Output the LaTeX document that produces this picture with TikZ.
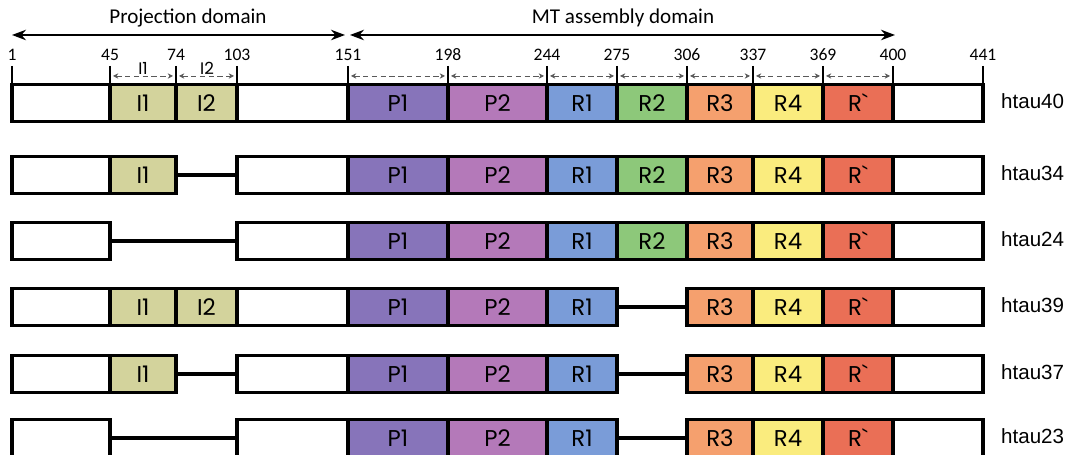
\documentclass[tikz,border=0pt]{standalone}
\usepackage{fontspec}
\setmainfont{Liberation Sans}
\newfontfamily\calfont{Carlito}
\newfontfamily\segfont{Poppins}
\usetikzlibrary{arrows.meta}
\tikzset{>=latex}
\definecolor{icol}{RGB}{211,211,156}
\definecolor{ponecol}{RGB}{135,116,186}
\definecolor{ptwocol}{RGB}{180,121,185}
\definecolor{ronecol}{RGB}{122,156,216}
\definecolor{rtwocol}{RGB}{141,200,122}
\definecolor{rthreecol}{RGB}{245,160,110}
\definecolor{rfourcol}{RGB}{250,236,126}
\definecolor{rpcol}{RGB}{234,111,86}
\tikzstyle{seg}=[draw,line width=1.9pt,inner sep=0pt,outer sep=0pt,minimum height=0.74cm,font=\segfont\fontsize{13}{15}\selectfont]
\tikzstyle{gap}=[line width=1.9pt]
\tikzstyle{span}=[<->,>={Stealth[length=3pt,width=3pt]},gray!70!black,densely dashed,thin]
% one segment of a construct: name, left x, right x, y, fill, text
\newcommand{\segm}[6]{\node[seg,fill=#5,minimum width={(#3-#2)*0.02cm}] (#1) at ({(#2+#3)/2},#4) {#6};}

\begin{document}
\begin{tikzpicture}[x=0.02cm,y=-0.02cm]
  \useasboundingbox (0,0) rectangle (1072,455);
  % domains
  \draw[<->,>={Stealth[length=8pt,width=6pt]},thick] (12,35) -- (345,35);
  \draw[<->,>={Stealth[length=8pt,width=6pt]},thick] (350,35) -- (895,35);
  \node[font=\calfont\fontsize{12}{14}\selectfont] (projlab) at (188,18) {Projection domain};
  \node[font=\calfont\fontsize{12}{14}\selectfont] (mtlab) at (623,18) {MT assembly domain};
  % residue numbers
  \foreach \x/\n in {12/1,110/45,176/74,237/103,348/151,448/198,547/244,617/275,687/306,753/337,823/369,893/400,983/441}{
    \draw[thick] (\x,66) -- (\x,84);
    \node[font=\calfont\fontsize{10}{12}\selectfont] at (\x,55) {\n};
  }
  \foreach \a/\b in {110/176,176/237,348/448,448/547,547/617,617/687,687/753,753/823,823/893}
    \draw[span] (\a+3,76) -- (\b-3,76);
  \node[font=\segfont\fontsize{9.5}{10}\selectfont] (ilab1) at (143,68) {I1};
  \node[font=\segfont\fontsize{9.5}{10}\selectfont] (ilab2) at (207,68) {I2};
  % constructs
  \foreach \r/\y/\lab in {1/103/htau40,2/175/htau34,3/241/htau24,4/307/htau39,5/374/htau37,6/438/htau23}{
    \segm{r\r-w1}{12}{110}{\y}{white}{}
    \segm{r\r-w2}{237}{348}{\y}{white}{}
    \segm{r\r-P1}{348}{448}{\y}{ponecol}{P1}
    \segm{r\r-P2}{448}{547}{\y}{ptwocol}{P2}
    \segm{r\r-R1}{547}{617}{\y}{ronecol}{R1}
    \segm{r\r-R3}{687}{753}{\y}{rthreecol}{R3}
    \segm{r\r-R4}{753}{823}{\y}{rfourcol}{R4}
    \segm{r\r-Rp}{823}{893}{\y}{rpcol}{R`}
    \segm{r\r-w3}{893}{983}{\y}{white}{}
    \node[anchor=west,font=\fontsize{11.7}{14}\selectfont] (lab\r) at (995,\y-2) {\lab};
  }
  \foreach \r/\y in {1/103,2/175,4/307,5/374}{
    \segm{r\r-I1}{110}{176}{\y}{icol}{I1}
  }
  \foreach \r/\y in {1/103,4/307}{
    \segm{r\r-I2}{176}{237}{\y}{icol}{I2}
  }
  \foreach \r/\y in {1/103,2/175,3/241}{
    \segm{r\r-R2}{617}{687}{\y}{rtwocol}{R2}
  }
  % deletions
  \draw[gap] (r2-I1.east) -- (r2-w2.west);
  \draw[gap] (r3-w1.east) -- (r3-w2.west);
  \draw[gap] (r4-R1.east) -- (r4-R3.west);
  \draw[gap] (r5-I1.east) -- (r5-w2.west);
  \draw[gap] (r5-R1.east) -- (r5-R3.west);
  \draw[gap] (r6-w1.east) -- (r6-w2.west);
  \draw[gap] (r6-R1.east) -- (r6-R3.west);
\end{tikzpicture}
\end{document}
